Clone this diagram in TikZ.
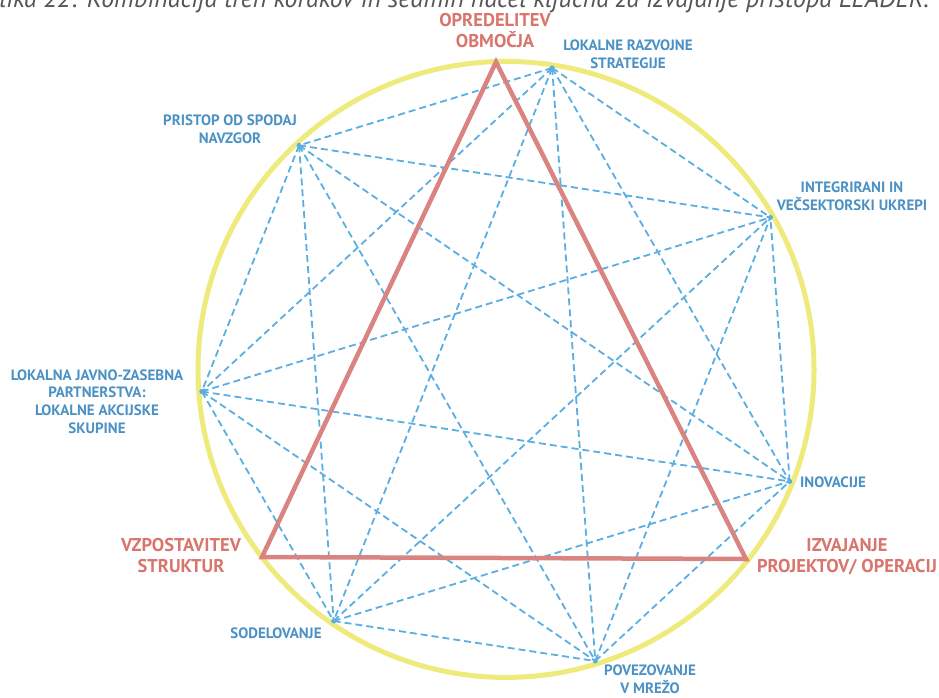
\documentclass[tikz,border=0pt]{standalone}
\usepackage{fontspec}
\setmainfont{PT Sans}
\usepackage{tikz}
\usetikzlibrary{positioning,calc}
\definecolor{leadred}{HTML}{D8756C}
\definecolor{triared}{HTML}{D98480}
\definecolor{leadblue}{HTML}{4B91C4}
\definecolor{dashblue}{HTML}{5AAEE2}
\definecolor{ringyellow}{HTML}{EEEA7C}
\definecolor{capgray}{HTML}{555555}

\begin{document}
\begin{tikzpicture}[
x=1pt,y=-1pt,
dot/.style={
	circle,
	fill=dashblue,
	inner sep=0pt,
	minimum size=5pt
},
princ/.style={
	font=\bfseries\fontsize{15}{17.7}\selectfont,
	text=leadblue,
	align=center
},
stage/.style={
	font=\bfseries\fontsize{18.5}{21}\selectfont,
	text=leadred,
	align=center
},
link/.style={
	dashblue,
	line width=1.8pt,
	dash pattern=on 7pt off 4pt
}
]
\useasboundingbox (0,0) rectangle (939,697);

% caption, cut at the top edge
\begin{scope}
\clip (0,0) rectangle (939,697);
\node[anchor=base west,inner sep=0pt,text=capgray,
	font=\itshape\fontsize{26}{30}\selectfont] (caption) at (-14,7)
{Slika 22: Kombinacija treh korakov in sedmih načel ključna za izvajanje pristopa LEADER.};
\end{scope}

\coordinate (c) at (506,369.4);
\draw[ringyellow,line width=5pt] (c) circle (308);

% seven principles
\foreach \k in {1,...,7}
	\node[dot] (p\k) at ($(c)+({-81.3-51.43*(\k-1)}:305)$) {};

\foreach \i in {1,...,6}{
	\pgfmathtruncatemacro{\nxt}{\i+1}
	\foreach \j in {\nxt,...,7}
		\draw[link] (p\i.center) -- (p\j.center);
}

% three steps
\coordinate (top) at (496,62);
\coordinate (left) at (262,557);
\coordinate (right) at (746,559);
\draw[triared,line width=4.5pt,line join=miter] (top) -- (left) -- (right) -- cycle;

\node[stage] (obm) at (495,31) {OPREDELITEV\\OBMOČJA};
\node[stage] (struk) at (181,556) {VZPOSTAVITEV\\STRUKTUR};
\node[stage] (izv) at (847,557) {IZVAJANJE\\PROJEKTOV/ OPERACIJ};

\node[princ] (lrs) at (628,54.5) {LOKALNE RAZVOJNE\\STRATEGIJE};
\node[princ] (pristop) at (230,129) {PRISTOP OD SPODAJ\\NAVZGOR};
\node[princ] (integ) at (852,196) {INTEGRIRANI IN\\VEČSEKTORSKI UKREPI};
\node[princ] (las) at (97,401.5) {LOKALNA JAVNO-ZASEBNA\\PARTNERSTVA:\\LOKALNE AKCIJSKE\\SKUPINE};
\node[princ] (inov) at (833,482) {INOVACIJE};
\node[princ] (sodel) at (276,633) {SODELOVANJE};
\node[princ] (mreza) at (650,679) {POVEZOVANJE\\V MREŽO};

\end{tikzpicture}
\end{document}
